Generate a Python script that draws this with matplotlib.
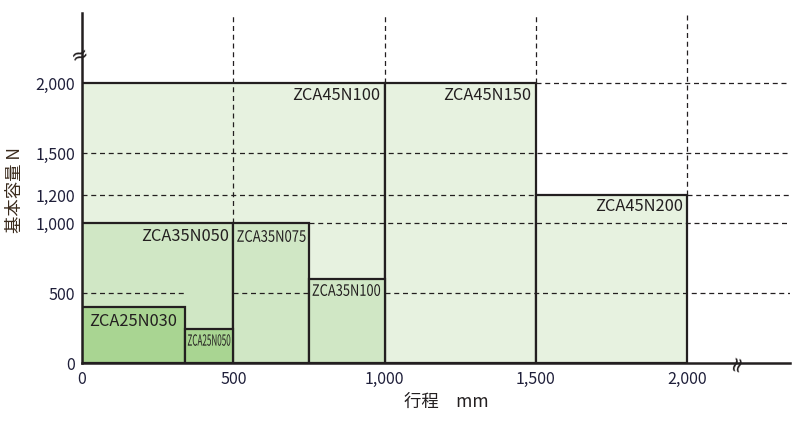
import numpy as np
import matplotlib.pyplot as plt
import matplotlib.transforms as mtransforms
from matplotlib.patches import Rectangle, PathPatch
from matplotlib.textpath import TextPath
from matplotlib.font_manager import FontProperties

plt.rcParams['font.family'] = ['Noto Sans CJK JP', 'DejaVu Sans']

# model name, stroke range start/end (mm), capacity (N)
models = ['ZCA45N100', 'ZCA45N150', 'ZCA45N200',
          'ZCA35N050', 'ZCA35N075', 'ZCA35N100',
          'ZCA25N030', 'ZCA25N050']
x0 = [0, 1000, 1500, 0, 500, 750, 0, 340]
x1 = [1000, 1500, 2000, 500, 750, 1000, 340, 500]
cap = [2000, 2000, 1200, 1000, 1000, 600, 400, 240]
level = [0, 0, 0, 1, 1, 1, 2, 2]

yticks = [0, 500, 1000, 1200, 1500, 2000]
ytick_labels = ['0', '500', '1,000', '1,200', '1,500', '2,000']
xticks = [0, 500, 1000, 1500, 2000]
xtick_labels = ['0', '500', '1,000', '1,500', '2,000']

fills = ['#e7f2e0', '#d0e7c5', '#a9d592']
ink = '#231f20'

fig = plt.figure(figsize=(8.03, 4.21), dpi=100)
ax = fig.add_axes([82 / 803, 1 - 363 / 421, 708 / 803, 350 / 421])
ax.set_xlim(0, 2340)
ax.set_ylim(0, 2500)

for i in range(len(models)):
    ax.add_patch(Rectangle((x0[i], 0), x1[i] - x0[i], cap[i],
                           facecolor=fills[level[i]], edgecolor=ink,
                           lw=1.6, zorder=2))

# dashed grid drawn over the fills where it's not hidden by smaller boxes
def hline(y, xa, xb):
    ax.plot([xa, xb], [y, y], ls=(0, (4, 3)), color=ink, lw=0.9, zorder=3)

def vline(x, ya, yb):
    ax.plot([x, x], [ya, yb], ls=(0, (4, 3)), color=ink, lw=0.9, zorder=3)

hline(500, 0, 340)
hline(500, 500, 750)
hline(500, 1000, 2340)
hline(1000, 750, 2340)
hline(1200, 0, 1500)
hline(1200, 2000, 2340)
hline(1500, 0, 2340)
hline(2000, 1500, 2340)
vline(500, 1000, 2500)
vline(1000, 2000, 2500)
vline(1500, 2000, 2500)
vline(2000, 1200, 2500)


def narrow_text(x, y, s, fs, sx, ha='left'):
    # condensed label: glyph outline squeezed horizontally
    tp = TextPath((0, 0), s, size=fs, prop=FontProperties(family='Noto Sans CJK JP'))
    ext = tp.get_extents()
    if ha == 'left':
        dx = -ext.x0
    elif ha == 'center':
        dx = -(ext.x0 + ext.x1) / 2
    else:
        dx = -ext.x1
    dy = -(ext.y0 + ext.y1) / 2
    k = fig.dpi / 72
    tr = (mtransforms.Affine2D().translate(dx, dy).scale(sx * k, k)
          + mtransforms.ScaledTranslation(x, y, ax.transData))
    ax.add_patch(PathPatch(tp, transform=tr, facecolor=ink, edgecolor='none', zorder=4))


# labels
big = 11.8
ax.text(985, 1914, 'ZCA45N100', ha='right', va='center', fontsize=big, color=ink, zorder=4)
ax.text(1485, 1914, 'ZCA45N150', ha='right', va='center', fontsize=big, color=ink, zorder=4)
ax.text(1985, 1121, 'ZCA45N200', ha='right', va='center', fontsize=big, color=ink, zorder=4)
ax.text(485, 907, 'ZCA35N050', ha='right', va='center', fontsize=big, color=ink, zorder=4)
ax.text(25, 300, 'ZCA25N030', ha='left', va='center', fontsize=big, color=ink, zorder=4)
narrow_text(513, 907, 'ZCA35N075', 11.3, 0.83)
narrow_text(762, 521, 'ZCA35N100', 11.3, 0.82)
narrow_text(420, 164, 'ZCA25N050', 11, 0.53, ha='center')

ax.set_xticks(xticks)
ax.set_xticklabels(xtick_labels)
ax.set_yticks(yticks)
ax.set_yticklabels(ytick_labels)
ax.tick_params(length=0, labelsize=11.5, colors='#1f1f3a')
ax.tick_params(axis='x', pad=6)
ax.tick_params(axis='y', pad=5)

for s in ['top', 'right']:
    ax.spines[s].set_visible(False)
for s in ['left', 'bottom']:
    ax.spines[s].set_linewidth(1.8)
    ax.spines[s].set_color(ink)
    ax.spines[s].set_zorder(5)

# axis break marks
ax.text(-8, 2200, '≈', rotation=20, ha='center', va='center', fontsize=15,
        color=ink, zorder=6, family=['DejaVu Sans'])
ax.text(2165, 0, '≈', rotation=75, ha='center', va='center', fontsize=15,
        color=ink, zorder=6, family=['DejaVu Sans'])

ax.set_xlabel('行程\u3000mm', fontsize=12.5, color=ink)
ax.xaxis.set_label_coords(0.514, -0.085)
ax.set_ylabel('基本容量 N', fontsize=12.5, color='#3a2a1c')
ax.yaxis.set_label_coords(-0.082, 0.494)

fig.savefig('out.png', dpi=100)
